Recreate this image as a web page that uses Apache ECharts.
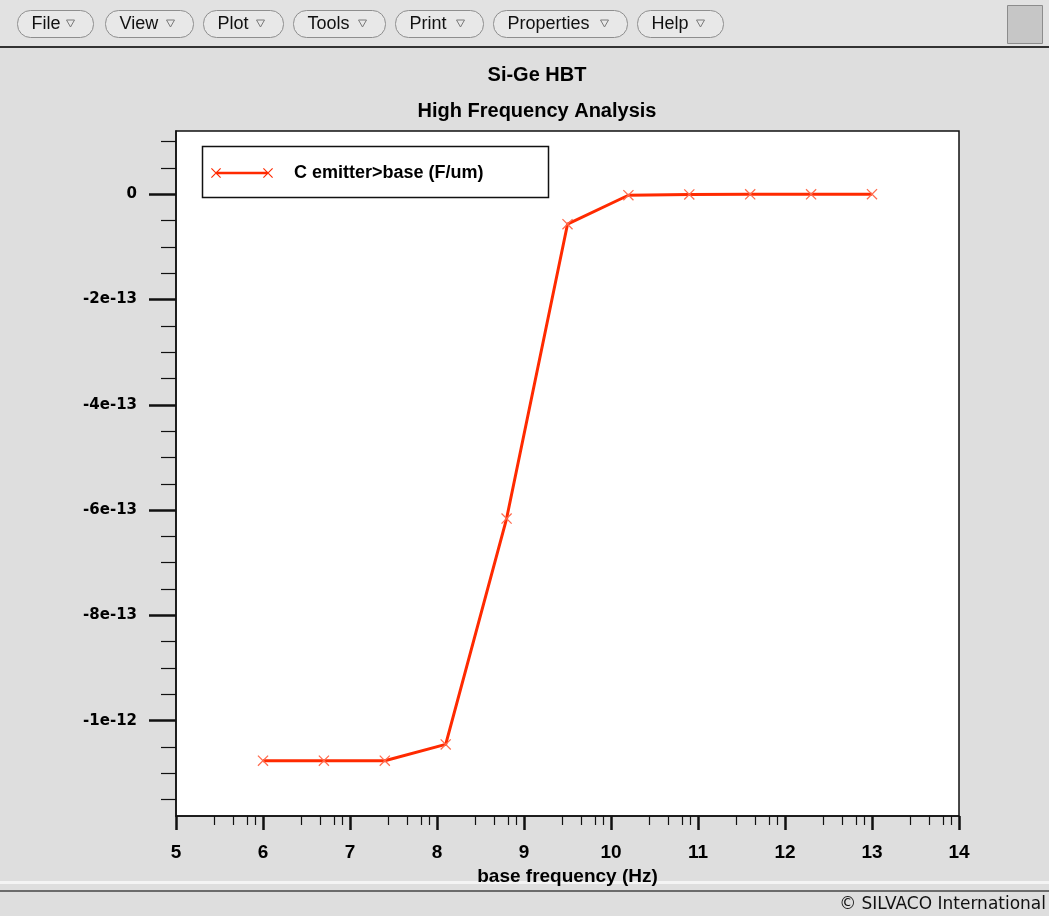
<!DOCTYPE html>
<html>
<head>
<meta charset="utf-8">
<title>Si-Ge HBT - High Frequency Analysis</title>
<script src="https://cdn.jsdelivr.net/npm/echarts@6/dist/echarts.min.js"></script>
<style>
  html, body { margin: 0; padding: 0; background: #dedede; }
  #chart { width: 1049px; height: 916px; }
</style>
</head>
<body>
<div id="chart"></div>
<script>
// values
const baseFreq = [6, 6.7, 7.4, 8.1, 8.8, 9.5, 10.2, 10.9, 11.6, 12.3, 13.0];
const cEmitterBase = [-1.076e-12, -1.076e-12, -1.076e-12, -1.045e-12, -6.16e-13, -5.7e-14, -2e-15, -5e-16, -3e-16, -2e-16, -1e-16];

// axis ticks
const yTickValues = [-1e-12, -8e-13, -6e-13, -4e-13, -2e-13, 0];
const yTickLabels = ['-1e-12', '-8e-13', '-6e-13', '-4e-13', '-2e-13', '0'];
const yMinorTicks = [1e-13, 5e-14, -5e-14, -1e-13, -1.5e-13, -2.5e-13, -3e-13, -3.5e-13,
  -4.5e-13, -5e-13, -5.5e-13, -6.5e-13, -7e-13, -7.5e-13, -8.5e-13, -9e-13, -9.5e-13,
  -1.05e-12, -1.1e-12, -1.15e-12];
const xMinorTicks = [5.44, 5.66, 5.82, 5.91, 6.44, 6.66, 6.82, 6.91, 7.44, 7.66, 7.82, 7.91,
  8.44, 8.66, 8.82, 8.91, 9.44, 9.66, 9.82, 9.91, 10.44, 10.66, 10.82, 10.91,
  11.44, 11.66, 11.82, 11.91, 12.44, 12.66, 12.82, 12.91, 13.44, 13.66, 13.82, 13.91];

const menuItems = ['File', 'View', 'Plot', 'Tools', 'Print', 'Properties', 'Help'];

const seriesName = 'C emitter>base (F/um)';

// little "x" marker
const xMark = 'path://M0 0.8 L0.8 0 L10 9.2 L9.2 10 Z M9.2 0 L10 0.8 L0.8 10 L0 9.2 Z';
// legend icon: line with an x at each end
const legendIcon = 'path://M5 3.8 L57 3.8 L57 6.2 L5 6.2 Z ' +
  'M0 0.8 L0.8 0 L10 9.2 L9.2 10 Z M9.2 0 L10 0.8 L0.8 10 L0 9.2 Z ' +
  'M52 0.8 L52.8 0 L62 9.2 L61.2 10 Z M61.2 0 L62 0.8 L52.8 10 L52 9.2 Z';

var myChart = echarts.init(document.getElementById('chart'));

// window chrome: menu bar, legend box, footer
const graphics = [
  { type: 'rect', shape: { x: 0, y: 0, width: 1049, height: 46 }, style: { fill: '#e2e2e2' }, silent: true },
  { type: 'line', shape: { x1: 0, y1: 47, x2: 1049, y2: 47 }, style: { stroke: '#333', lineWidth: 2 }, silent: true },
  { type: 'rect', shape: { x: 1007.5, y: 5.5, width: 35, height: 38 }, style: { fill: '#c6c6c6', stroke: '#8c8c8c', lineWidth: 1 }, silent: true },
  { type: 'rect', shape: { x: 0, y: 881, width: 1049, height: 3 }, style: { fill: '#f4f4f4' }, silent: true },
  { type: 'line', shape: { x1: 0, y1: 891, x2: 1049, y2: 891 }, style: { stroke: '#444', lineWidth: 1.5 }, silent: true },
  { type: 'text', x: 1046, y: 905, silent: true,
    style: { text: '© SILVACO International', fontSize: 17, fontFamily: 'DejaVu Sans', fill: '#111', align: 'right', verticalAlign: 'middle' } },
  { type: 'rect', z: 5, shape: { x: 202.5, y: 146.5, width: 346, height: 51 }, style: { fill: '#fff', stroke: '#111', lineWidth: 1.5 }, silent: true }
];

const menuLeft = [17, 105, 203, 293, 395, 493, 637];
const menuWidth = [76, 88, 80, 92, 88, 134, 86];
menuItems.forEach((name, i) => {
  const x = menuLeft[i] + 0.5, w = menuWidth[i];
  graphics.push({ type: 'rect', shape: { x: x, y: 10.5, width: w, height: 27, r: 13 },
    style: { fill: '#e8e8e8', stroke: '#8e8e8e', lineWidth: 1 }, silent: true });
  graphics.push({ type: 'text', x: x + 14, y: 24, silent: true,
    style: { text: name, fontSize: 18, fontFamily: '"Liberation Sans Narrow", "Liberation Sans", sans-serif', fill: '#111', verticalAlign: 'middle' } });
  graphics.push({ type: 'polygon', silent: true,
    shape: { points: [[x + w - 27, 20], [x + w - 19, 20], [x + w - 23, 27]] },
    style: { fill: 'none', stroke: '#7a7a7a', lineWidth: 1 } });
});

const option = {
  backgroundColor: '#dedede',
  animation: false,
  title: [
    {
      text: 'Si-Ge HBT',
      left: 537, top: 65, padding: 0, textAlign: 'center',
      textStyle: { fontSize: 20, fontWeight: 'bold', fontFamily: 'Liberation Sans', color: '#000' }
    },
    {
      text: 'High Frequency Analysis',
      left: 537, top: 101, padding: 0, textAlign: 'center',
      textStyle: { fontSize: 20, fontWeight: 'bold', fontFamily: 'Liberation Sans', color: '#000' }
    }
  ],
  legend: {
    left: 211, top: 164, padding: 0,
    selectedMode: false,
    itemWidth: 62, itemHeight: 10,
    z: 10,
    data: [{ name: seriesName, icon: legendIcon, itemStyle: { color: '#ff2a00' } }],
    textStyle: { fontSize: 18, fontWeight: 'bold', fontFamily: 'Liberation Sans', color: '#000', padding: [0, 0, 0, 16] }
  },
  grid: {
    left: 176, top: 131, width: 783, height: 685,
    show: true, backgroundColor: '#fff', borderColor: '#111', borderWidth: 1.5
  },
  xAxis: [
    {
      type: 'value', min: 5, max: 14, interval: 1, position: 'bottom',
      name: 'base frequency (Hz)', nameLocation: 'middle', nameGap: 38,
      nameTextStyle: { fontSize: 19, fontWeight: 'bold', fontFamily: '"Liberation Sans Narrow", "Liberation Sans"', color: '#000' },
      axisLine: { show: true, onZero: false, lineStyle: { color: '#111', width: 1.5 } },
      axisTick: { show: true, inside: false, length: 14, lineStyle: { color: '#111', width: 2.5 } },
      axisLabel: { margin: 27, fontSize: 19, fontWeight: 'bold', fontFamily: '"Liberation Sans Narrow", "Liberation Sans"', color: '#000' },
      splitLine: { show: false }
    },
    {
      type: 'value', min: 5, max: 14, position: 'bottom',
      axisLine: { show: false, onZero: false },
      axisTick: { show: true, inside: false, length: 9, customValues: xMinorTicks, lineStyle: { color: '#111', width: 1.2 } },
      axisLabel: { show: false },
      splitLine: { show: false }
    }
  ],
  yAxis: [
    {
      type: 'value', min: -1.181e-12, max: 1.2e-13, position: 'left',
      axisLine: { show: true, onZero: false, lineStyle: { color: '#111', width: 1.5 } },
      axisTick: { show: true, inside: false, length: 27, customValues: yTickValues, lineStyle: { color: '#111', width: 2.5 } },
      axisLabel: {
        margin: 39, customValues: yTickValues,
        fontSize: 15, fontWeight: 'bold', fontFamily: 'DejaVu Sans', color: '#000',
        formatter: function (v) {
          const i = yTickValues.findIndex(t => Math.abs(t - v) < 1e-16);
          return i >= 0 ? yTickLabels[i] : '';
        }
      },
      splitLine: { show: false }
    },
    {
      type: 'value', min: -1.181e-12, max: 1.2e-13, position: 'left',
      axisLine: { show: false, onZero: false },
      axisTick: { show: true, inside: false, length: 15, customValues: yMinorTicks, lineStyle: { color: '#111', width: 1.2 } },
      axisLabel: { show: false },
      splitLine: { show: false }
    }
  ],
  series: [
    {
      name: seriesName,
      type: 'line',
      xAxisIndex: 0, yAxisIndex: 0,
      data: baseFreq.map((f, i) => [f, cEmitterBase[i]]),
      symbol: xMark,
      symbolSize: 11,
      itemStyle: { color: '#ff6a4d' },
      lineStyle: { color: '#ff2a00', width: 3 },
      z: 3
    }
  ],
  graphic: graphics
};

option && myChart.setOption(option);
</script>
</body>
</html>
